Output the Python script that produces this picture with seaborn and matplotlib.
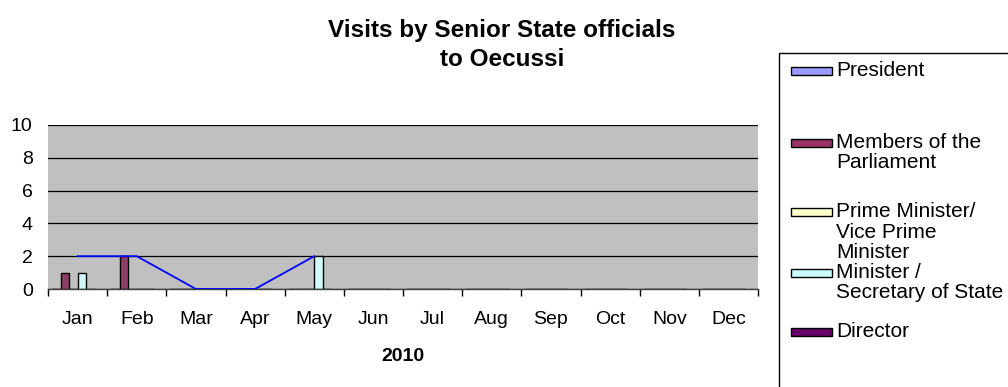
import numpy as np
import pandas as pd
import seaborn as sns
import matplotlib
matplotlib.use('Agg')
import matplotlib.pyplot as plt
from matplotlib.patches import Rectangle

months = ['Jan', 'Feb', 'Mar', 'Apr', 'May', 'Jun', 'Jul', 'Aug', 'Sep', 'Oct', 'Nov', 'Dec']
series = ['President', 'Members of the Parliament', 'Prime Minister/ Vice Prime Minister',
          'Minister / Secretary of State', 'Director', 'Total']
legend_labels = ['President', 'Members of the\nParliament', 'Prime Minister/\nVice Prime\nMinister',
                 'Minister /\nSecretary of State', 'Director']
colors = ['#9999FF', '#993366', '#FFFFCC', '#CCFFFF', '#660066', '#0000FF']

president = [0, 0, 0, 0, 0, 0, 0, 0, 0, 0, 0, 0]
members = [1, 2, 0, 0, 0, 0, 0, 0, 0, 0, 0, 0]
prime_minister = [0, 0, 0, 0, 0, 0, 0, 0, 0, 0, 0, 0]
minister = [1, 0, 0, 0, 2, 0, 0, 0, 0, 0, 0, 0]
director = [0, 0, 0, 0, 0, 0, 0, 0, 0, 0, 0, 0]
total = [2, 2, 0, 0, 2, np.nan, np.nan, np.nan, np.nan, np.nan, np.nan, np.nan]

values = [president, members, prime_minister, minister, director, total]
df = pd.DataFrame({
    'month': months * len(series),
    'series': np.repeat(series, len(months)),
    'visits': np.concatenate(values),
})

sns.set_theme(style='white')
plt.rcParams['font.family'] = ['Liberation Sans', 'DejaVu Sans']
plt.rcParams['text.color'] = 'black'
plt.rcParams['axes.labelcolor'] = 'black'
plt.rcParams['xtick.color'] = 'black'
plt.rcParams['ytick.color'] = 'black'

W, H = 1008, 387
fig = plt.figure(figsize=(W / 100, H / 100), dpi=100)
ax = fig.add_axes([48 / W, 1 - 289 / H, 710 / W, 164 / H])
ax.set_facecolor('#C0C0C0')

sns.barplot(data=df, x='month', y='visits', hue='series', order=months, hue_order=series,
            palette=colors, width=0.86, edgecolor='black', linewidth=1.0, legend=False, ax=ax)
# the total slot is shown as a line, not as bars
for bar in ax.containers[-1]:
    bar.set_visible(False)
ax.plot(np.arange(len(months)), total, color='#0000FF', lw=1.3, zorder=4)

ax.set_ylim(0, 10)
ax.set_xlim(-0.5, 11.5)
ax.set_yticks(range(0, 11, 2))
ax.yaxis.grid(True, color='black', lw=0.9)
ax.set_axisbelow(True)
for s in ['left', 'right', 'top']:
    ax.spines[s].set_visible(False)
ax.spines['bottom'].set_color('#404040')
ax.spines['bottom'].set_linewidth(1.0)
ax.tick_params(axis='y', length=0, pad=11, labelsize=14)
ax.tick_params(axis='x', which='major', length=0, pad=16, labelsize=14)
ax.set_xticks(np.arange(-0.5, 12, 1), minor=True)
ax.tick_params(axis='x', which='minor', length=5, width=1, color='black', direction='out')
ax.xaxis.set_ticks_position('bottom')
ax.set_xlabel('2010', fontsize=14, fontweight='bold', labelpad=14)
ax.set_ylabel('')

fig.text(502 / W, 1 - 19 / H, 'Visits by Senior State officials\nto Oecussi', ha='center', va='top',
         fontsize=17.5, fontweight='bold', linespacing=1.32)

# legend box
fig.patches.append(Rectangle((779 / W, -0.1), 0.3, 1.1 - 53 / H, transform=fig.transFigure,
                             facecolor='white', edgecolor='black', lw=1, clip_on=False))
patch_y = [71, 143, 212, 273, 332]
for lab, col, py in zip(legend_labels, colors, patch_y):
    fig.patches.append(Rectangle((791 / W, 1 - (py + 4) / H), 41 / W, 8 / H, transform=fig.transFigure,
                                 facecolor=col, edgecolor='black', lw=1))
    fig.text(836 / W, 1 - (py - 10) / H, lab, ha='left', va='top', fontsize=15, linespacing=1.1)

fig.savefig('out.png', dpi=100)
